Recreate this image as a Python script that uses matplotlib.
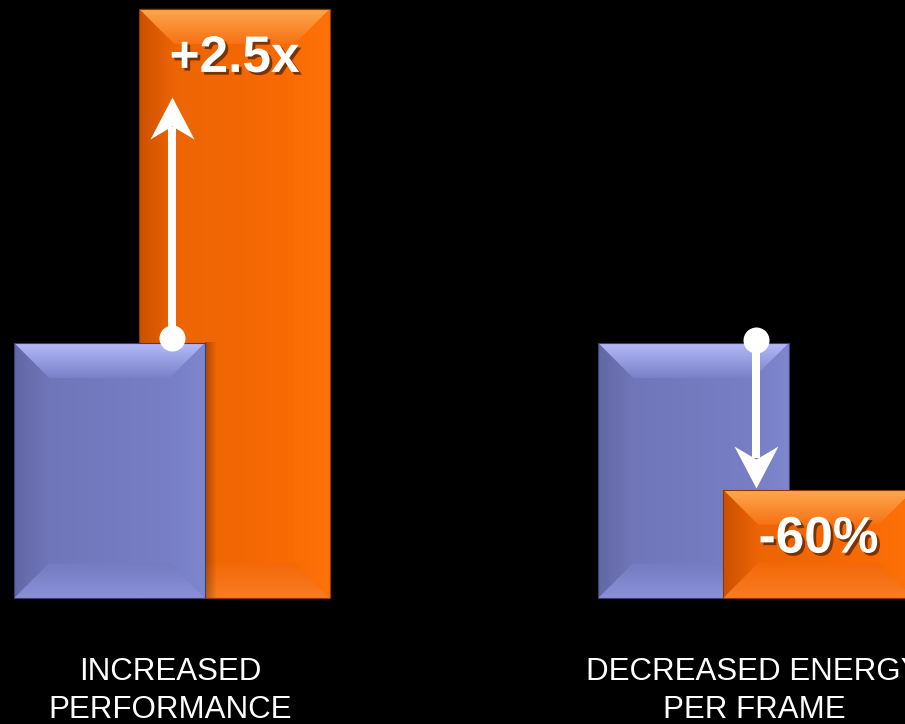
import numpy as np
import matplotlib
matplotlib.use("Agg")
import matplotlib.pyplot as plt
from matplotlib.patches import Polygon, Rectangle
from matplotlib.path import Path
from matplotlib.markers import MarkerStyle
import matplotlib.patheffects as pe

# ---------------- data ----------------
categories = ["INCREASED\nPERFORMANCE", "DECREASED ENERGY\nPER FRAME"]
baseline_values = [1.0, 1.0]
new_values = [2.31, 0.425]
change_labels = ["+2.5x", "-60%"]
arrow_from = [1.02, 1.01]
arrow_to = [1.965, 0.43]

# ---------------- figure ----------------
W, H, DPI = 905, 724, 100
fig = plt.figure(figsize=(W / DPI, H / DPI), dpi=DPI, facecolor="black")
ax = fig.add_axes([0, 0, 1, 1])
ax.set_facecolor("black")
XLIM = (-0.2945, 1.2551)
YLIM = (-0.494, 2.345)
ax.axis("off")

ppx = W / (XLIM[1] - XLIM[0])
ppy = H / (YLIM[1] - YLIM[0])


def px_x(p):
    return p / ppx


def px_y(p):
    return p / ppy


bar_w = px_x(191)
offset = px_x(62.5)
positions = np.arange(len(categories))

BLUE = dict(face_l=(110, 116, 182), face_r=(122, 129, 200),
            top_edge=(180, 186, 250), top_in=(122, 129, 200),
            bot_edge=(138, 145, 216), bot_in=(116, 123, 192),
            left_edge=(98, 103, 166), left_in=(112, 118, 184),
            right_edge=(126, 134, 206), right_in=(120, 127, 198),
            outline=(60, 64, 110))
ORANGE = dict(face_l=(234, 99, 6), face_r=(252, 108, 2),
              top_edge=(255, 168, 80), top_in=(246, 114, 20),
              bot_edge=(250, 124, 34), bot_in=(243, 104, 8),
              left_edge=(204, 80, 0), left_in=(236, 100, 6),
              right_edge=(255, 114, 10), right_in=(250, 108, 4),
              outline=(140, 55, 0))


def grad_poly(verts, c0, c1, direction, zorder):
    verts = np.asarray(verts, dtype=float)
    xmin, ymin = verts.min(0)
    xmax, ymax = verts.max(0)
    n = 64
    t = np.linspace(0, 1, n)
    a = np.array(c0) / 255.0
    b = np.array(c1) / 255.0
    cols = a[None, :] * (1 - t)[:, None] + b[None, :] * t[:, None]
    if direction == "x":
        img = cols[None, :, :]
    else:
        img = cols[:, None, :]
    im = ax.imshow(img, extent=(xmin, xmax, ymin, ymax), origin="lower",
                   aspect="auto", interpolation="bilinear", zorder=zorder)
    clip = Polygon(verts, closed=True, transform=ax.transData,
                   facecolor="none", edgecolor="none")
    im.set_clip_path(clip)


def draw_bar(xc, h, pal, z):
    x0, x1 = xc - bar_w / 2, xc + bar_w / 2
    y0, y1 = 0.0, h
    bx, by = px_x(35), px_y(35)
    rect = [(x0, y0), (x1, y0), (x1, y1), (x0, y1)]
    grad_poly(rect, pal["face_l"], pal["face_r"], "x", z)
    top = [(x0, y1), (x1, y1), (x1 - bx, y1 - by), (x0 + bx, y1 - by)]
    grad_poly(top, pal["top_in"], pal["top_edge"], "y", z + 0.01)
    bot = [(x0, y0), (x1, y0), (x1 - bx, y0 + by), (x0 + bx, y0 + by)]
    grad_poly(bot, pal["bot_edge"], pal["bot_in"], "y", z + 0.01)
    left = [(x0, y0), (x0, y1), (x0 + bx, y1 - by), (x0 + bx, y0 + by)]
    grad_poly(left, pal["left_edge"], pal["left_in"], "x", z + 0.01)
    right = [(x1, y0), (x1, y1), (x1 - bx, y1 - by), (x1 - bx, y0 + by)]
    grad_poly(right, pal["right_in"], pal["right_edge"], "x", z + 0.01)
    ax.add_patch(Rectangle((x0, y0), x1 - x0, y1 - y0, facecolor="none",
                           edgecolor=np.array(pal["outline"]) / 255.0,
                           linewidth=0.8, zorder=z + 0.02))
    return x0, x1, y0, y1


def shadow_strip(xs, y0, y1, clip_rect, zorder):
    w = px_x(12)
    img = np.zeros((1, 32, 4))
    img[..., 3] = np.linspace(0.3, 0.0, 32)
    im = ax.imshow(img, extent=(xs, xs + w, y0, y1), origin="lower",
                   aspect="auto", interpolation="bilinear", zorder=zorder)
    cx0, cx1, cy0, cy1 = clip_rect
    clip = Rectangle((cx0, cy0), cx1 - cx0, cy1 - cy0, transform=ax.transData)
    im.set_clip_path(clip)


for i, pos in enumerate(positions):
    base_x = pos - offset
    new_x = pos + offset
    new_front = new_values[i] < baseline_values[i]
    z_base = 1 if new_front else 3
    z_new = 3 if new_front else 1
    rb = draw_bar(base_x, baseline_values[i], BLUE, z_base)
    rn = draw_bar(new_x, new_values[i], ORANGE, z_new)
    if not new_front:
        shadow_strip(rb[1], 0, baseline_values[i], rn, 2)

# arrows
head_path = Path([(0, 0), (22, -42), (0, -29), (-22, -42), (0, 0)],
                 [Path.MOVETO, Path.LINETO, Path.LINETO, Path.LINETO, Path.CLOSEPOLY])
for i, pos in enumerate(positions):
    s = np.sign(arrow_to[i] - arrow_from[i])
    ax.plot([pos, pos], [arrow_from[i], arrow_to[i] - s * px_y(30)],
            color="white", lw=8 * 72 / DPI, solid_capstyle="butt", zorder=10)
    verts = head_path.vertices.copy()
    verts[:, 1] *= s
    mk = MarkerStyle(Path(verts, head_path.codes))
    ax.plot([pos], [arrow_to[i]], marker=mk, ms=84 * 72 / DPI,
            color="white", mew=0, linestyle="none", zorder=11)
    ax.plot([pos], [arrow_from[i]], marker="o", ms=26 * 72 / DPI,
            color="white", mew=0, linestyle="none", zorder=11)

# change labels
for i, pos in enumerate(positions):
    ax.text(pos + offset, new_values[i] - px_y(63), change_labels[i],
            ha="center", va="baseline", fontsize=37, fontweight="bold",
            family="Liberation Sans", color="white", zorder=12,
            path_effects=[pe.SimplePatchShadow(offset=(2, -2), shadow_rgbFace="black", alpha=0.5),
                          pe.Normal()])

# category labels
for i, pos in enumerate(positions):
    for j, line in enumerate(categories[i].split("\n")):
        ax.text(pos - px_x(2), -px_y(82) - j * px_y(38), line, ha="center", va="baseline",
                fontsize=22.5, family="Liberation Sans", color="white", zorder=12)

ax.set_xlim(*XLIM)
ax.set_ylim(*YLIM)
fig.savefig("out.png", dpi=DPI, facecolor="black")
